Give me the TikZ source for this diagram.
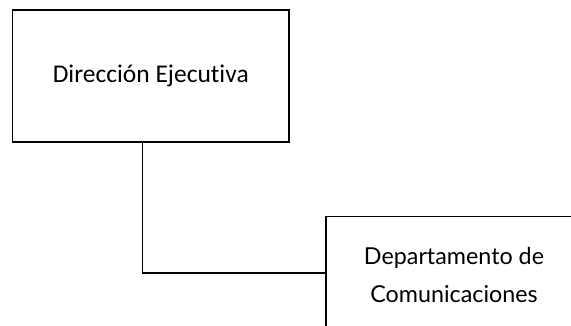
\documentclass[tikz,border=0pt]{standalone}
\usepackage{fontspec}
\setmainfont{Carlito}[Ligatures={NoCommon,NoDiscretionary}]
\newfontfamily\gillfont{Lato}[Ligatures={NoCommon,NoDiscretionary}]
\begin{document}
\begin{tikzpicture}[x=1pt,y=-1pt,
  box/.style={draw, line width=1.1pt, inner sep=0pt, align=center},
  conn/.style={draw, line width=1.1pt}]
\useasboundingbox (0,0) rectangle (571,326);
\clip (0,0) rectangle (571,326);
\node[box, minimum width=276.5pt, minimum height=132pt, font=\fontsize{25.5}{30}\selectfont] (dir) at (150.75,76) {Dirección Ejecutiva};
\node[box, minimum width=256pt, minimum height=117pt, font=\gillfont\fontsize{23.3}{38}\selectfont] (dep) at (454,275) {Departamento de\\Comunicaciones};
\coordinate (c) at (142.7,273);
\draw[conn] (dir.south -| c) |- (dep.west |- c);
\end{tikzpicture}
\end{document}
